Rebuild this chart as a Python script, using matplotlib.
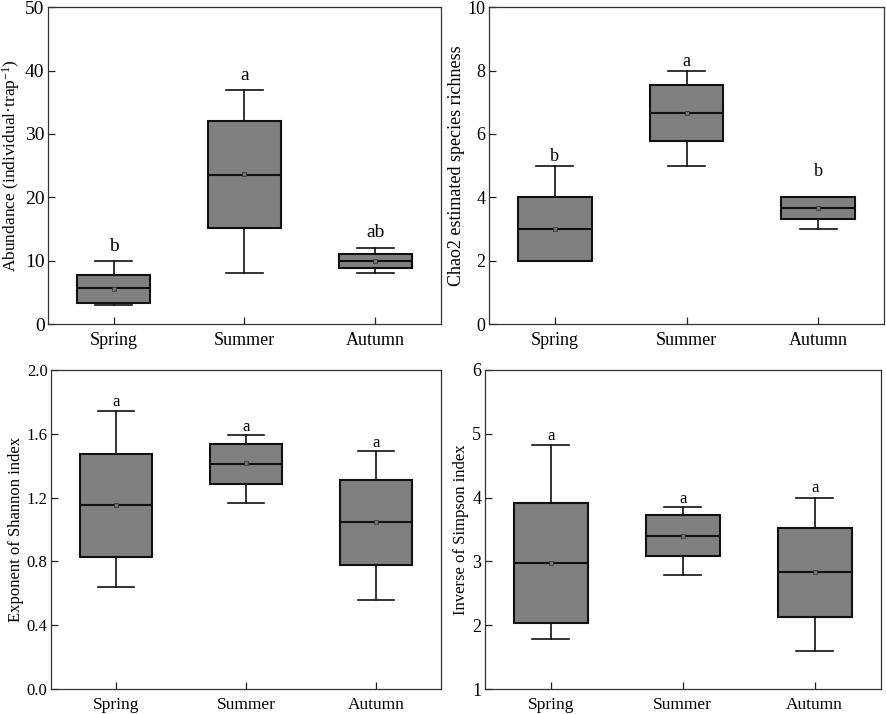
import numpy as np
import matplotlib
matplotlib.use('Agg')
import matplotlib.pyplot as plt

plt.rcParams['font.family'] = ['Liberation Serif', 'DejaVu Serif']
plt.rcParams['mathtext.fontset'] = 'custom'
plt.rcParams['mathtext.rm'] = 'Liberation Serif'
plt.rcParams['mathtext.it'] = 'Liberation Serif:italic'

seasons = ['Spring', 'Summer', 'Autumn']

# abundance
ab_low = [3.0, 8.0, 8.0]
ab_q1 = [3.4, 15.1, 8.8]
ab_med = [5.7, 23.6, 10.0]
ab_q3 = [7.8, 32.0, 11.0]
ab_high = [10.0, 37.0, 12.0]
ab_mean = [5.6, 23.7, 10.0]
ab_letters = ['b', 'a', 'ab']
ab_letter_y = [12.3, 39.2, 14.5]

# chao2
ch_low = [2.0, 5.0, 3.0]
ch_q1 = [2.0, 5.78, 3.33]
ch_med = [3.0, 6.67, 3.67]
ch_q3 = [4.0, 7.53, 4.0]
ch_high = [5.0, 8.0, 4.0]
ch_mean = [3.0, 6.67, 3.67]
ch_letters = ['b', 'a', 'b']
ch_letter_y = [5.3, 8.3, 4.8]

# exp shannon
sh_low = [0.637, 1.168, 0.56]
sh_q1 = [0.83, 1.285, 0.78]
sh_med = [1.154, 1.411, 1.047]
sh_q3 = [1.471, 1.534, 1.312]
sh_high = [1.741, 1.59, 1.494]
sh_mean = [1.154, 1.414, 1.047]
sh_letters = ['a', 'a', 'a']
sh_letter_y = [1.80, 1.645, 1.54]

# inverse simpson
si_low = [1.79, 2.78, 1.60]
si_q1 = [2.035, 3.085, 2.13]
si_med = [2.975, 3.40, 2.83]
si_q3 = [3.91, 3.73, 3.52]
si_high = [4.83, 3.85, 4.0]
si_mean = [2.97, 3.39, 2.83]
si_letters = ['a', 'a', 'a']
si_letter_y = [4.96, 3.98, 4.15]

panels = [
    dict(low=ab_low, q1=ab_q1, med=ab_med, q3=ab_q3, high=ab_high, mean=ab_mean,
         letters=ab_letters, ly=ab_letter_y, ylim=(0, 50), yticks=[0, 10, 20, 30, 40, 50],
         fmt='{:.0f}', ylabel='Abundance (individual\u00b7trap$^{-1}$)',
         rect=[0.0542, 0.546, 0.4435, 0.444], tfs=14, lfs=12.5, xfs=13, afs=14),
    dict(low=ch_low, q1=ch_q1, med=ch_med, q3=ch_q3, high=ch_high, mean=ch_mean,
         letters=ch_letters, ly=ch_letter_y, ylim=(0, 10), yticks=[0, 2, 4, 6, 8, 10],
         fmt='{:.0f}', ylabel='Chao2 estimated species richness',
         rect=[0.552, 0.546, 0.4457, 0.444], tfs=13, lfs=13, xfs=13, afs=13),
    dict(low=sh_low, q1=sh_q1, med=sh_med, q3=sh_q3, high=sh_high, mean=sh_mean,
         letters=sh_letters, ly=sh_letter_y, ylim=(0, 2.0), yticks=[0.0, 0.4, 0.8, 1.2, 1.6, 2.0],
         fmt='{:.1f}', ylabel='Exponent of Shannon index',
         rect=[0.0576, 0.035, 0.4401, 0.447], tfs=12, lfs=12, xfs=12.5, afs=12),
    dict(low=si_low, q1=si_q1, med=si_med, q3=si_q3, high=si_high, mean=si_mean,
         letters=si_letters, ly=si_letter_y, ylim=(1, 6), yticks=[1, 2, 3, 4, 5, 6],
         fmt='{:.0f}', ylabel='Inverse of Simpson index',
         rect=[0.547, 0.035, 0.447, 0.447], tfs=13, lfs=12, xfs=12.5, afs=12),
]

fig = plt.figure(figsize=(8.86, 7.14), dpi=100)

for p in panels:
    ax = fig.add_axes(p['rect'])
    stats = []
    for i in range(len(seasons)):
        stats.append(dict(whislo=p['low'][i], q1=p['q1'][i], med=p['med'][i],
                          q3=p['q3'][i], whishi=p['high'][i], mean=p['mean'][i],
                          fliers=[], label=seasons[i]))
    ax.bxp(stats, positions=[1, 2, 3], widths=0.56, capwidths=0.28,
           patch_artist=True, showmeans=True, showfliers=False,
           boxprops=dict(facecolor='#808080', edgecolor='#111111', linewidth=1.5),
           medianprops=dict(color='#111111', linewidth=1.5),
           whiskerprops=dict(color='#111111', linewidth=1.2),
           capprops=dict(color='#111111', linewidth=1.2),
           meanprops=dict(marker='s', markersize=2.2, markerfacecolor='#707070',
                          markeredgecolor='#333333', markeredgewidth=0.5))
    for i in range(len(seasons)):
        ax.text(i + 1, p['ly'][i], p['letters'][i], ha='center', va='center',
                fontsize=p['afs'])
    ax.set_xlim(0.5, 3.5)
    ax.set_ylim(*p['ylim'])
    ax.set_yticks(p['yticks'])
    ax.set_yticklabels([p['fmt'].format(v) for v in p['yticks']], fontsize=p['tfs'])
    ax.set_xticks([1, 2, 3])
    ax.set_xticklabels(seasons, fontsize=p['xfs'])
    ax.tick_params(direction='in', length=5, width=0.9, color='#222222', top=False, right=False)
    ax.tick_params(axis='x', pad=6)
    ax.tick_params(axis='y', pad=2.5)
    ax.set_ylabel(p['ylabel'], fontsize=p['lfs'], labelpad=2)
    for s in ax.spines.values():
        s.set_linewidth(0.9)
        s.set_color('#333333')

fig.savefig('out.png', dpi=100)
